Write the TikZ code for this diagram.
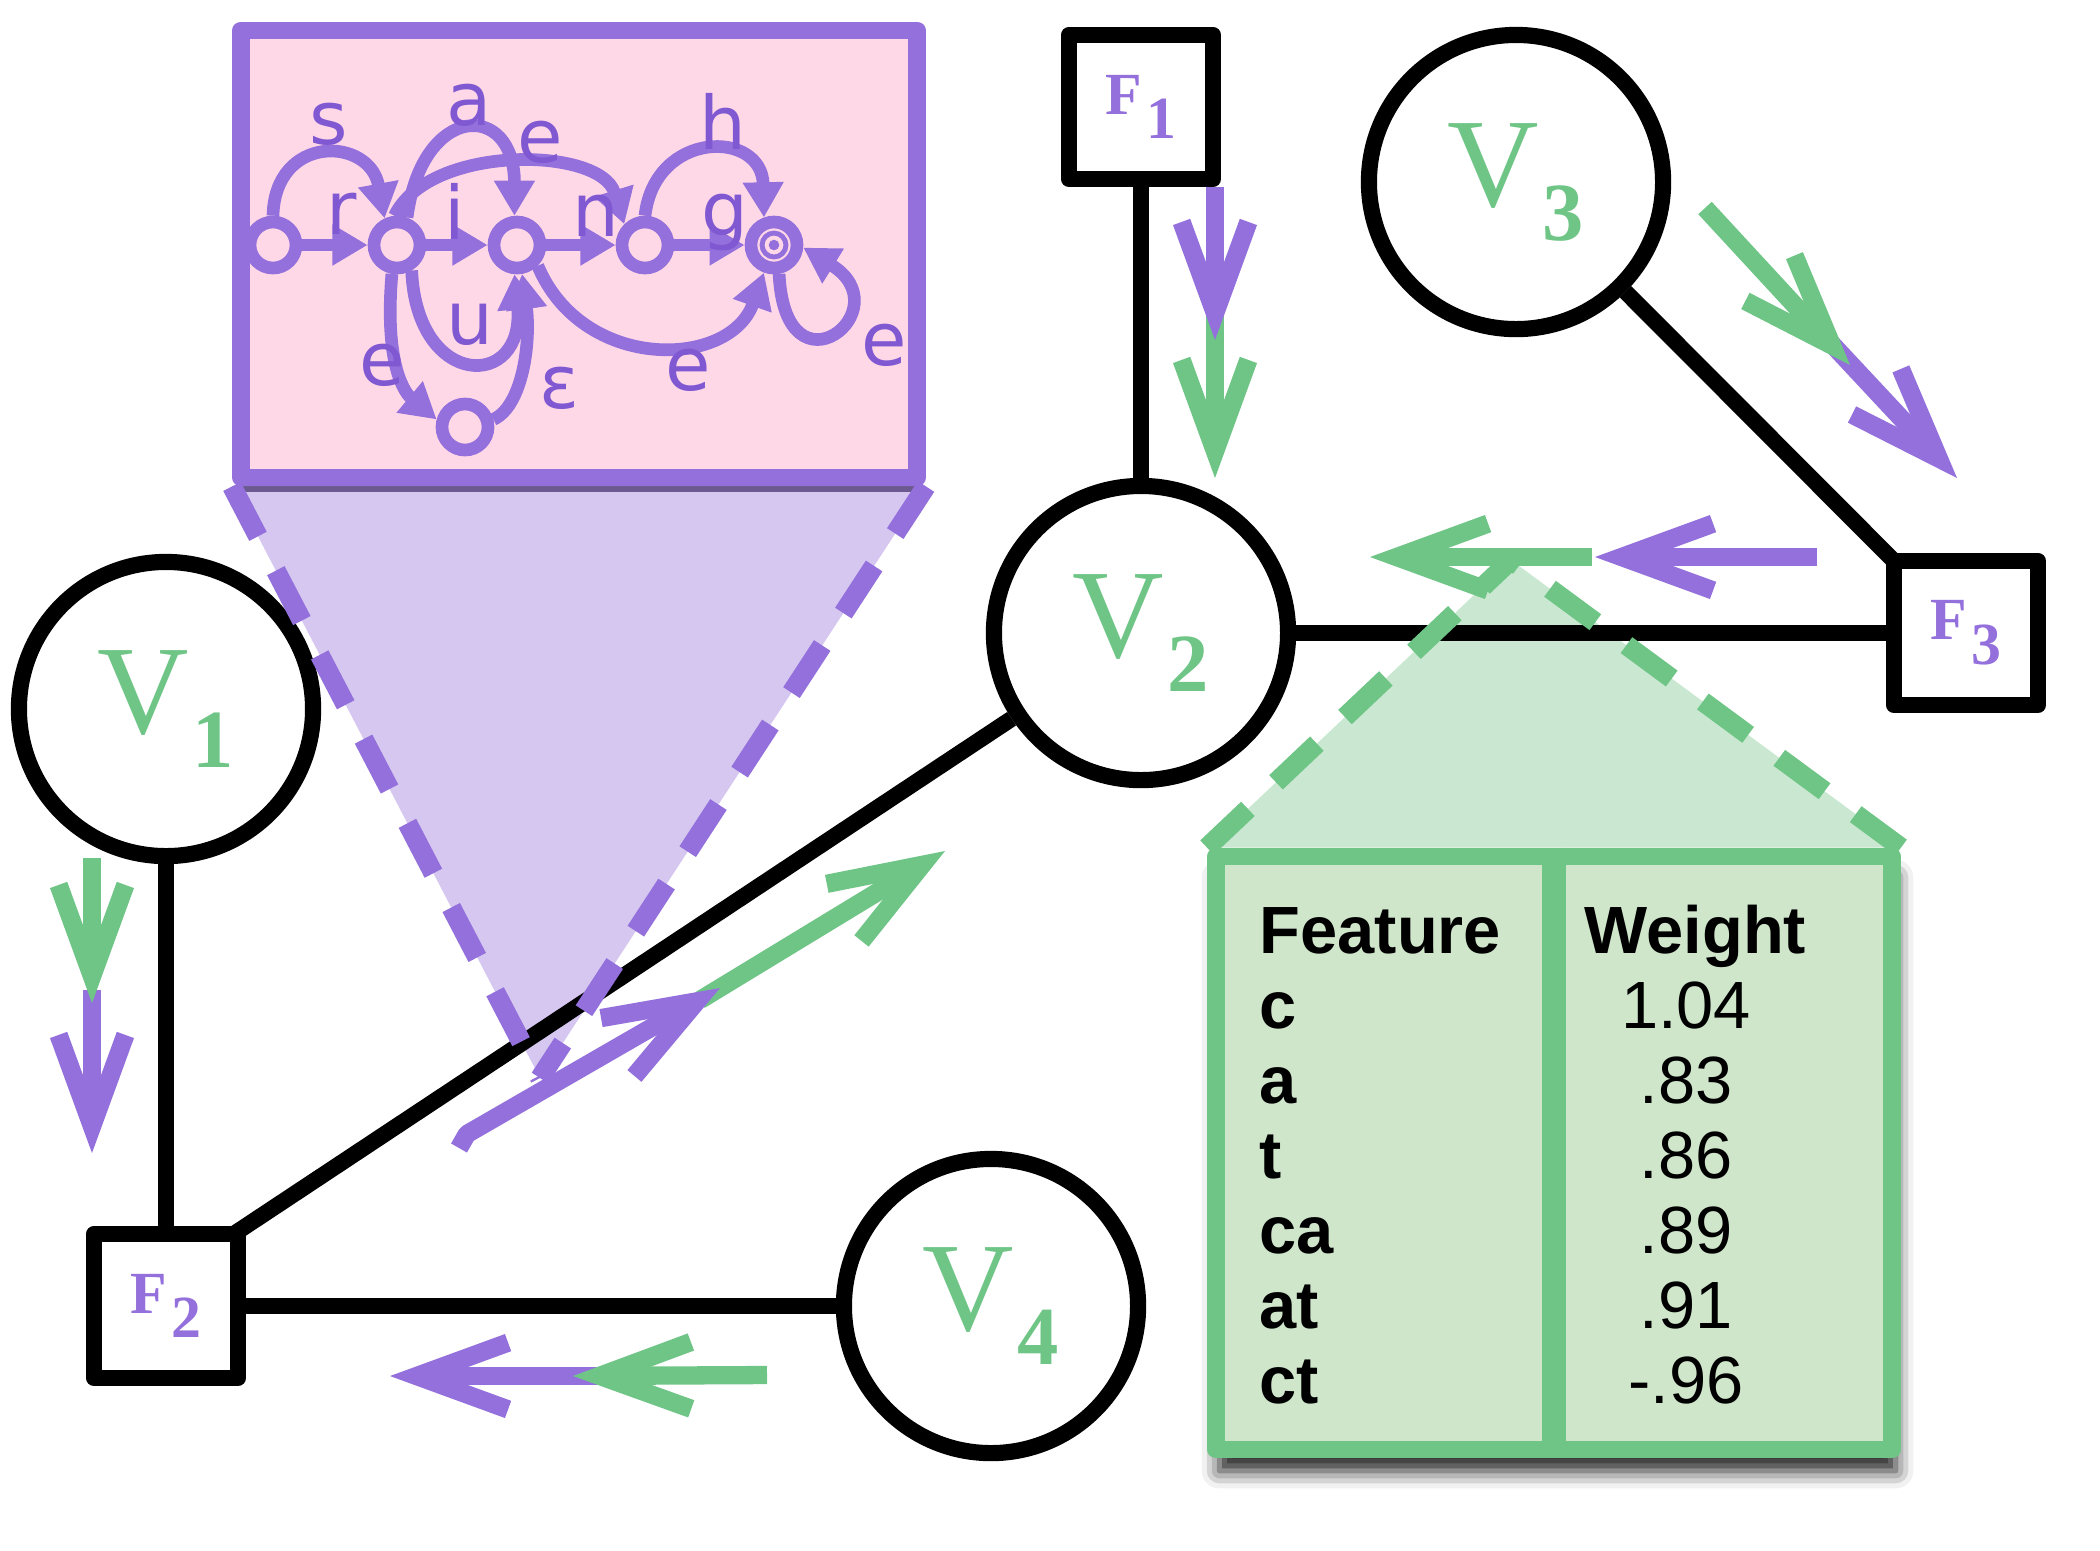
\documentclass[tikz,border=0pt]{standalone}
\usepackage{fontspec}
\setmainfont{Liberation Serif}
\setsansfont{Liberation Sans}
\newfontfamily\autofont{DejaVu Sans}
\usetikzlibrary{arrows.meta, shadows, shadows.blur, backgrounds}

\definecolor{msgpurple}{RGB}{147,112,219}
\definecolor{msggreen}{RGB}{110,197,134}
\definecolor{labpurple}{RGB}{128,88,210}
\definecolor{boxpink}{RGB}{255,216,232}
\definecolor{lilac}{RGB}{214,199,240}
\definecolor{mint}{RGB}{202,232,209}
\definecolor{tablegreen}{RGB}{207,230,203}

\newcommand{\vlab}[1]{{\fontsize{36}{36}\selectfont V}\kern1pt\raisebox{-9.7pt}{\fontsize{23.5}{24}\selectfont\bfseries #1}}
\newcommand{\flab}[1]{{\fontsize{17}{17}\selectfont\bfseries F\kern1.2pt\raisebox{-7pt}{#1}}}

\tikzset{
  varnode/.style={circle, draw, line width=4.6pt, fill=white, minimum size=2.94cm, inner sep=0pt, text=msggreen},
  facnode/.style={rectangle, draw, line width=4.6pt, fill=white, minimum size=1.44cm, inner sep=0pt, line join=round, text=msgpurple},
  graphedge/.style={line width=4.6pt},
  autobox/.style={rectangle, draw=msgpurple, fill=boxpink, line width=5pt, line join=round, minimum width=6.76cm, minimum height=4.47cm,
    drop shadow={shadow xshift=0pt, shadow yshift=-4pt, fill=black!45!msgpurple, opacity=0.8}},
  tablebox/.style={rectangle, draw=msggreen, fill=tablegreen, line width=5pt, line join=round, minimum width=6.76cm, minimum height=5.93cm,
    blur shadow={shadow xshift=1pt, shadow yshift=-6pt, shadow blur radius=5pt, shadow opacity=90}},
  st/.style={circle, draw=msgpurple, line width=3.6pt, fill=boxpink, minimum size=0.46cm, inner sep=0pt},
  ed/.style={draw=msgpurple, line width=3.6pt, -{Triangle[length=10pt, width=11pt]}},
  lab/.style={font=\autofont\fontsize{21}{21}\selectfont, text=labpurple, inner sep=0pt},
  tabhead/.style={font=\sffamily\bfseries\fontsize{19}{19}\selectfont, inner sep=0pt, anchor=base west},
  tabfeat/.style={font=\sffamily\bfseries\fontsize{19}{19}\selectfont, inner sep=0pt, anchor=base west},
  tabval/.style={font=\sffamily\fontsize{19}{19}\selectfont, inner sep=0pt, anchor=base},
  pdash/.style={draw=msgpurple, line width=5.6pt, dash pattern=on 16pt off 11pt},
  gdash/.style={draw=msggreen, line width=5.6pt, dash pattern=on 16pt off 11pt},
  msg/.style={line width=5.2pt, line join=round, -{Straight Barb[length=26pt, width=19pt]}}
}

\begin{document}
\begin{tikzpicture}[x=0.01cm, y=-0.01cm]
  \useasboundingbox (0,0) rectangle (2100,1550);

  % factor graph
  \node[varnode] (V1) at (166,709) {\vlab{1}};
  \node[varnode] (V2) at (1141,633) {\vlab{2}};
  \node[varnode] (V3) at (1516,182) {\vlab{3}};
  \node[varnode] (V4) at (991,1306) {\vlab{4}};
  \node[facnode] (F1) at (1141,107) {\flab{1}};
  \node[facnode] (F2) at (166,1306) {\flab{2}};
  \node[facnode] (F3) at (1966,633) {\flab{3}};

  \draw[graphedge] (F1) -- (V2);
  \draw[graphedge] (V1) -- (F2);
  \draw[graphedge, shorten <=-4pt] (F2.north east) -- (V2);
  \draw[graphedge] (F2) -- (V4);
  \draw[graphedge] (V2) -- (F3);
  \draw[graphedge, shorten <=-4pt] (F3.north west) -- (V3);

  % automaton for F2
  \node[autobox] (box) at (579,254) {};
  \node[st] (q0) at (273,245) {};
  \node[st] (q1) at (397,245) {};
  \node[st] (q2) at (517,245) {};
  \node[st] (q3) at (645,245) {};
  \node[st] (q4) at (774,245) {};
  \node[st] (q5) at (465,427) {};
  \draw[msgpurple, line width=1.4pt] (q4) circle (3.4pt);
  \fill[msgpurple] (q4) circle (1.5pt);

  \draw[ed] (q0) -- (q1);
  \draw[ed] (q1) -- (q2);
  \draw[ed] (q2) -- (q3);
  \draw[ed] (q3) -- (q4);
  \draw[ed] (q0.90) .. controls +(2,-82) and +(-15,-82) .. (q1.115);
  \draw[ed] (q1.70) .. controls +(15,-115) and +(0,-115) .. (q2.95);
  \draw[ed] (q1.95) .. controls +(35,-72) and +(-24,-78) .. (q3.135);
  \draw[ed] (q3.90) .. controls +(10,-86) and +(-2,-88) .. (q4.110);
  \draw[ed] (q1.-60) .. controls +(5,120) and +(11,116) .. (q2.-95);
  \draw[ed] (q1.-100) .. controls +(-8,95) and +(-30,-25) .. (q5.165);
  \draw[ed] (q5.15) .. controls +(29,-13) and +(9,69) .. (q2.-80);
  \draw[ed] (q2.-45) .. controls +(45,107) and +(-34,96) .. (q4.-110);
  \draw[ed] (q4.-80) .. controls +(6,129) and +(100,62) .. (q4.-5);

  \node[lab] (ls) at (329,124) {s};
  \node[lab] (la) at (469,105) {a};
  \node[lab] (le1) at (540,142) {e};
  \node[lab] (lh) at (723,121) {h};
  \node[lab] (lr) at (342,214) {r};
  \node[lab] (li) at (455,211) {i};
  \node[lab] (ln) at (596,216) {n};
  \node[lab] (lg) at (725,222) {g};
  \node[lab] (lu) at (470,324) {u};
  \node[lab] (le2) at (382,365) {e};
  \node[lab] (leps) at (559,388) {ε};
  \node[lab] (le3) at (688,370) {e};
  \node[lab] (le4) at (884,345) {e};

  % feature weights for F3
  \node[tablebox] (tbl) at (1554,1153) {};
  \draw[msggreen, line width=7pt] (tbl.north) -- (tbl.south);
  \node[tabhead] (fhead) at (1259,953) {Feature};
  \node[tabhead] (whead) at (1584,953) {Weight};
  \foreach \f/\w [count=\i] in {c/1.04, a/.83, t/.86, ca/.89, at/.91, ct/-.96} {
    \node[tabfeat] (feat\i) at (1259,{953+75*\i}) {\f};
    \node[tabval] (val\i) at (1686,{953+75*\i}) {\w};
  }

  % zoom cones
  \coordinate (papex) at (540,1078);
  \coordinate (gapex) at (1511,560);
  \begin{pgfonlayer}{background}
    \fill[lilac] (box.south west) -- (papex) -- (box.south east) -- cycle;
    \fill[mint] (tbl.north west) -- (gapex) -- (tbl.north east) -- cycle;
  \end{pgfonlayer}
  \draw[pdash] (box.south west) -- (papex);
  \draw[pdash] (box.south east) -- (papex);
  \draw[gdash] (tbl.north west) -- (gapex);
  \draw[gdash] (tbl.north east) -- (gapex);

  % messages
  \coordinate (m1a) at (1215,187);  \coordinate (m1b) at (1215,340);
  \coordinate (m2a) at (1215,300);  \coordinate (m2b) at (1215,478);
  \coordinate (m3a) at (92,858);    \coordinate (m3b) at (92,1003);
  \coordinate (m4a) at (92,990);    \coordinate (m4b) at (92,1153);
  \coordinate (m5a) at (1705,208);  \coordinate (m5b) at (1850,365);
  \coordinate (m6a) at (1830,342);  \coordinate (m6b) at (1957,478);
  \coordinate (m7a) at (1817,557);  \coordinate (m7b) at (1595,557);
  \coordinate (m8a) at (1592,557);  \coordinate (m8b) at (1370,557);
  \coordinate (m9a) at (767,1375);  \coordinate (m9b) at (573,1376);
  \coordinate (m10a) at (600,1376); \coordinate (m10b) at (390,1376);
  \coordinate (m11a) at (459,1148); \coordinate (m11k) at (467,1134);
  \coordinate (m11b) at (720,988);
  \coordinate (m12a) at (700,1000); \coordinate (m12b) at (945,851);

  \draw[msg, msggreen] (m2a) -- (m2b);
  \draw[msg, msgpurple] (m1a) -- (m1b);
  \draw[msg, msgpurple] (m4a) -- (m4b);
  \draw[msg, msggreen] (m3a) -- (m3b);
  \draw[msg, msgpurple] (m6a) -- (m6b);
  \draw[msg, msggreen] (m5a) -- (m5b);
  \draw[msg, msgpurple] (m7a) -- (m7b);
  \draw[msg, msggreen] (m8a) -- (m8b);
  \draw[msg, msgpurple] (m10a) -- (m10b);
  \draw[msg, msggreen] (m9a) -- (m9b);
  \draw[msg, msggreen] (m12a) -- (m12b);
  \draw[msg, msgpurple] (m11a) -- (m11k) -- (m11b);
\end{tikzpicture}
\end{document}
